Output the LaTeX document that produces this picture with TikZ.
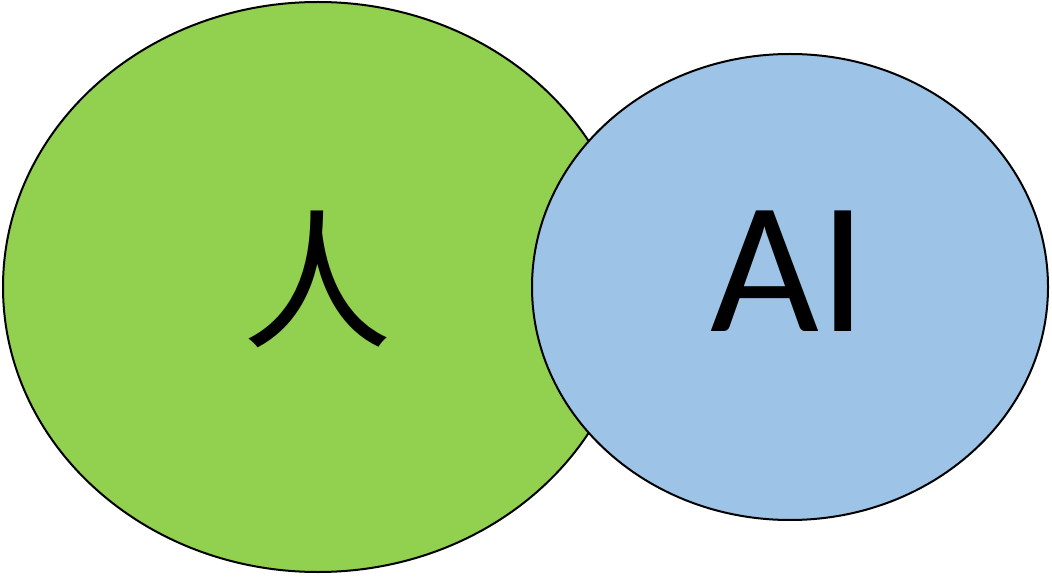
\documentclass[tikz,border=0pt]{standalone}
\usepackage{fontspec}
\newfontfamily\cjk{Noto Sans CJK SC}
\setsansfont{Carlito}
\definecolor{gfill}{HTML}{92D050}
\definecolor{bfill}{HTML}{9DC3E6}
\begin{document}
\begin{tikzpicture}[x=1pt,y=-1pt,
  blob/.style={draw=black,line width=2pt}]
\useasboundingbox (0,0) rectangle (1052,577);
\path[blob,fill=gfill] (318,287) ellipse [x radius=315,y radius=285];
\node[inner sep=0pt,font=\cjk\fontsize{150}{150}\selectfont] (human) at (317,279) {人};
\path[blob,fill=bfill] (790,287) ellipse [x radius=258,y radius=233];
\node[inner sep=0pt,font=\sffamily\fontsize{188}{188}\selectfont] (ai) at (789,271) {AI};
\end{tikzpicture}
\end{document}
